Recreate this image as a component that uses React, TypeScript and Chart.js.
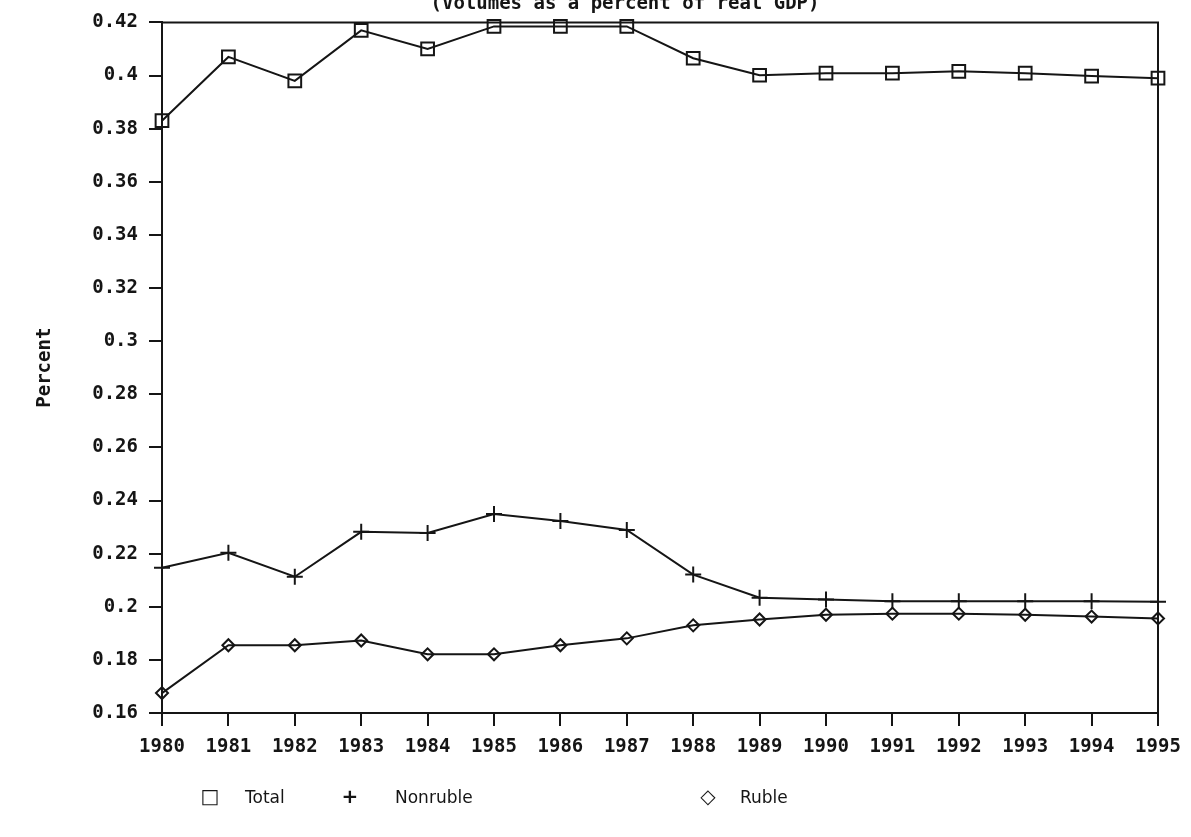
import React, { useEffect, useRef } from 'react';
import { Chart, registerables } from 'chart.js';

Chart.register(...registerables);

const years = ['1980', '1981', '1982', '1983', '1984', '1985', '1986', '1987', '1988', '1989', '1990', '1991', '1992', '1993', '1994', '1995'];
const totalValues = [0.383, 0.407, 0.398, 0.417, 0.410, 0.4185, 0.4185, 0.4185, 0.4065, 0.4001, 0.4009, 0.4009, 0.4016, 0.4009, 0.3998, 0.399];
const nonrubleValues = [0.2147, 0.2203, 0.2113, 0.2282, 0.2278, 0.2349, 0.2323, 0.2289, 0.2121, 0.2034, 0.2027, 0.2021, 0.2021, 0.2021, 0.2021, 0.2019];
const rubleValues = [0.1675, 0.1855, 0.1855, 0.1873, 0.1821, 0.1821, 0.1855, 0.1881, 0.1930, 0.1952, 0.1970, 0.1974, 0.1974, 0.1970, 0.1963, 0.1956];

const seriesNames = ['Total', 'Nonruble', 'Ruble'];
const legendGlyphs = ['\u25A1', '+', '\u25C7'];
const yMin = 0.16;
const yMax = 0.42;
const yStep = 0.02;
const titleText = '(Volumes as a percent of real GDP)';
const yAxisTitle = 'Percent';

const FONT = '"DejaVu Sans Mono", monospace';
const LEGEND_FONT = '"DejaVu Sans", sans-serif';
const INK = '#151515';

const framePlugin = {
  id: 'frame',
  afterDatasetsDraw(chart: any) {
    const { ctx, chartArea } = chart;
    const { left, top, right, bottom } = chartArea;
    ctx.save();
    ctx.strokeStyle = INK;
    ctx.lineWidth = 2;
    ctx.beginPath();
    ctx.moveTo(left, top);
    ctx.lineTo(right, top);
    ctx.lineTo(right, bottom);
    ctx.stroke();
    ctx.restore();
  },
};

const legendLayout = [
  { glyphX: 210, textX: 245 },
  { glyphX: 350, textX: 395 },
  { glyphX: 708, textX: 740 },
];

export default function App() {
  const canvasRef = useRef<HTMLCanvasElement>(null);

  useEffect(() => {
    if (!canvasRef.current) return;
    const common = {
      borderColor: INK,
      borderWidth: 2,
      pointBorderColor: INK,
      pointBackgroundColor: 'rgba(0,0,0,0)',
      pointBorderWidth: 2,
      tension: 0,
      clip: false as any,
      fill: false,
    };
    const tickFont = { family: FONT, size: 19, weight: 'bold' as const };
    const chart = new Chart(canvasRef.current, {
      type: 'line',
      data: {
        labels: years,
        datasets: [
          { ...common, label: seriesNames[0], data: totalValues, pointStyle: 'rect', pointRadius: 9 },
          { ...common, label: seriesNames[1], data: nonrubleValues, pointStyle: 'cross', pointRadius: 8 },
          { ...common, label: seriesNames[2], data: rubleValues, pointStyle: 'rectRot', pointRadius: 6 },
        ],
      },
      options: {
        animation: false,
        responsive: false,
        maintainAspectRatio: false,
        layout: { padding: { left: 0, top: 19, right: 33, bottom: 0 } },
        plugins: {
          legend: { display: false },
          tooltip: { enabled: false },
          title: { display: false },
        },
        scales: {
          x: {
            type: 'category',
            offset: false,
            ticks: {
              autoSkip: false,
              maxRotation: 0,
              padding: 10,
              color: INK,
              font: tickFont,
            },
            grid: { drawOnChartArea: false, drawTicks: true, tickLength: 13, color: INK, lineWidth: 2 },
            border: { display: true, color: INK, width: 2 },
            afterFit(scale: any) { scale.height = 124; },
          },
          y: {
            min: yMin,
            max: yMax,
            ticks: {
              stepSize: yStep,
              padding: 11,
              color: INK,
              font: tickFont,
              callback: (v: any) => String(Number(Number(v).toFixed(2))),
            },
            grid: { drawOnChartArea: false, drawTicks: true, tickLength: 13, color: INK, lineWidth: 2 },
            border: { display: true, color: INK, width: 2 },
            title: {
              display: true,
              text: yAxisTitle,
              color: INK,
              font: tickFont,
              padding: { top: 34, bottom: 0 },
            },
            afterFit(scale: any) { scale.width = 162; },
          },
        },
      },
      plugins: [framePlugin],
    });
    return () => chart.destroy();
  }, []);

  const textStyle: React.CSSProperties = { fontFamily: FONT, fontSize: 19, fontWeight: 'bold', color: INK, whiteSpace: 'nowrap' };
  const legendStyle: React.CSSProperties = { fontFamily: LEGEND_FONT, fontSize: 17, color: INK, whiteSpace: 'nowrap' };

  return (
    <div style={{ position: 'absolute', left: 0, top: 0, width: 1191, height: 837, overflow: 'hidden', background: '#fff' }}>
      <canvas ref={canvasRef} width={1191} height={837} style={{ position: 'absolute', left: 0, top: 0 }} />
      <div style={{ ...textStyle, position: 'absolute', left: 0, top: -8, width: 1250, textAlign: 'center', lineHeight: '20px' }}>
        {titleText}
      </div>
      {seriesNames.map((name, i) => (
        <React.Fragment key={name}>
          <div style={{ ...legendStyle, position: 'absolute', left: legendLayout[i].glyphX - 20, top: 785, width: 40, textAlign: 'center', lineHeight: '22px', fontSize: 20, fontWeight: 'bold' }}>
            {legendGlyphs[i]}
          </div>
          <div style={{ ...legendStyle, position: 'absolute', left: legendLayout[i].textX, top: 786, lineHeight: '22px' }}>
            {name}
          </div>
        </React.Fragment>
      ))}
    </div>
  );
}
